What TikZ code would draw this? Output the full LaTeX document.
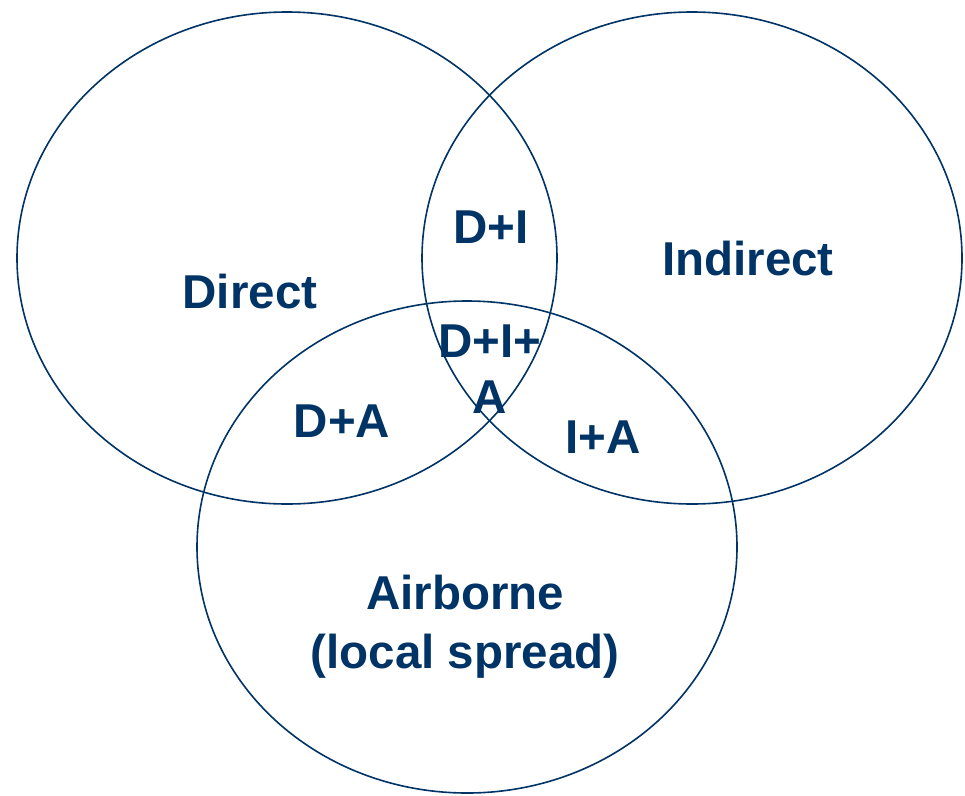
\documentclass[tikz,border=0pt]{standalone}
\usepackage{fontspec}
\setmainfont{Liberation Sans}
\definecolor{navy}{RGB}{0,51,102}
\begin{document}
\begin{tikzpicture}[x=1pt,y=-1pt,
  ring/.style={draw=navy,line width=1.6pt},
  lbl/.style={text=navy,font=\bfseries\fontsize{47.5}{56}\selectfont,inner sep=0pt,anchor=base,align=center}]
\useasboundingbox (0,0) rectangle (965,795);
\draw[ring] (287,258) ellipse [x radius=270,y radius=246];
\draw[ring] (692,258) ellipse [x radius=270,y radius=246];
\draw[ring] (467,547) ellipse [x radius=270,y radius=246];
\node[lbl] (direct) at (250,308) {Direct};
\node[lbl] (indirect) at (748,275) {Indirect};
\node[lbl] (di) at (491,243) {D+I};
\node[lbl] (dia) at (490,413) {D+I+\\A};
\node[lbl] (da) at (342,437) {D+A};
\node[lbl] (ia) at (603,453) {I+A};
\node[lbl,font=\bfseries\fontsize{47.5}{59}\selectfont] (air) at (465,668) {Airborne\\(local spread)};
\end{tikzpicture}
\end{document}
